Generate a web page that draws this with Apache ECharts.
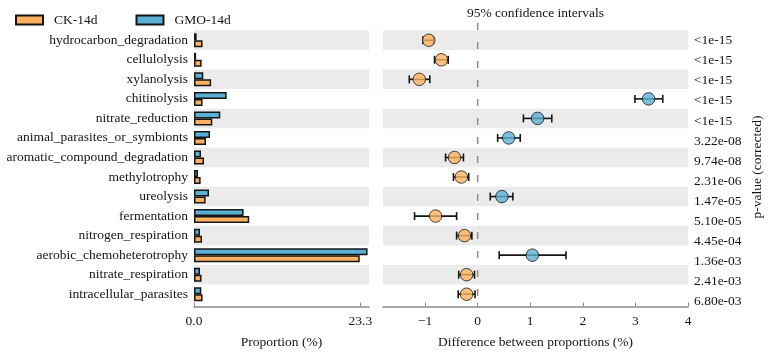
<!DOCTYPE html>
<html>
<head>
<meta charset="utf-8">
<script src="https://cdn.jsdelivr.net/npm/echarts@6/dist/echarts.min.js"></script>
<style>html,body{margin:0;padding:0;background:#fff}#c{width:768px;height:355px}</style>
</head>
<body>
<div id="c"></div>
<script>
const categories = ['hydrocarbon_degradation','cellulolysis','xylanolysis','chitinolysis','nitrate_reduction','animal_parasites_or_symbionts','aromatic_compound_degradation','methylotrophy','ureolysis','fermentation','nitrogen_respiration','aerobic_chemoheterotrophy','nitrate_respiration','intracellular_parasites'];
const ckProp  = [1.2, 1.07, 2.4, 1.2, 2.56, 1.68, 1.4, 0.93, 1.63, 7.73, 1.12, 23.2, 1.05, 1.2];
const gmoProp = [0.37, 0.3, 1.3, 4.57, 3.68, 2.24, 0.98, 0.56, 2.1, 6.94, 0.84, 24.3, 0.84, 1.02];
const diffMean = [-0.93, -0.69, -1.11, 3.25, 1.14, 0.59, -0.44, -0.31, 0.46, -0.80, -0.25, 1.04, -0.21, -0.21];
const ciLow    = [-1.04, -0.82, -1.30, 2.99, 0.87, 0.38, -0.61, -0.46, 0.24, -1.20, -0.40, 0.41, -0.36, -0.37];
const ciHigh   = [-0.84, -0.56, -0.91, 3.52, 1.41, 0.81, -0.27, -0.17, 0.67, -0.40, -0.11, 1.68, -0.06, -0.05];
const pValues = ['<1e-15','<1e-15','<1e-15','<1e-15','<1e-15','3.22e-08','9.74e-08','2.31e-06','1.47e-05','5.10e-05','4.45e-04','1.36e-03','2.41e-03','6.80e-03'];
const propTicks = [0, 23.3];
const diffTicks = [-1, 0, 1, 2, 3, 4];
const groupNames = ['CK-14d', 'GMO-14d'];

const ORANGE = '#fdb15f', BLUE = '#5aafd5', DARK = '#151515', BAND = '#ebebeb', AX = '#8a8a8a';
const FONT = 'Liberation Serif';
const FS = 13.5;

const chart = echarts.init(document.getElementById('c'));
const txt = {fontFamily: FONT, fontSize: FS, color: DARK};

const option = {
  animation: false,
  textStyle: {fontFamily: FONT},
  legend: {
    left: 15, top: 13, padding: 0, itemWidth: 27, itemHeight: 9, itemGap: 38,
    data: groupNames, icon: 'rect',
    textStyle: Object.assign({padding: [0,0,0,6]}, txt)
  },
  grid: [
    {left: 194, top: 30.5, width: 175, height: 273.5},
    {left: 383, top: 30.5, width: 305, height: 273.5},
    {left: 383, top: 30.5, width: 305, height: 281.5}
  ],
  xAxis: [
    {gridIndex: 0, type: 'value', min: 0, max: 24.5, offset: 2.5,
     axisLine: {show: true, lineStyle: {color: AX, width: 1.5}},
     axisTick: {show: true, inside: true, length: 4, customValues: propTicks, lineStyle: {color: AX, width: 1}},
     axisLabel: Object.assign({customValues: propTicks, margin: 8, formatter: v => v.toFixed(1)}, txt),
     splitLine: {show: false},
     name: 'Proportion (%)', nameLocation: 'middle', nameGap: 29, nameTextStyle: txt},
    {gridIndex: 1, type: 'value', min: -1.8, max: 4, offset: 2.5,
     axisLine: {show: true, lineStyle: {color: AX, width: 1.5}},
     axisTick: {show: true, inside: true, length: 4, customValues: diffTicks, lineStyle: {color: AX, width: 1}},
     axisLabel: Object.assign({customValues: diffTicks, margin: 8, formatter: v => String(v).replace('-', '\u2212')}, txt),
     splitLine: {show: false},
     name: 'Difference between proportions (%)', nameLocation: 'middle', nameGap: 29, nameTextStyle: txt},
    {gridIndex: 2, type: 'value', show: false}
  ],
  yAxis: [
    {gridIndex: 0, type: 'category', inverse: true, data: categories,
     axisLine: {show: false}, axisTick: {show: false},
     axisLabel: Object.assign({margin: 6}, txt),
     splitArea: {show: true, areaStyle: {color: [BAND, 'rgba(255,255,255,0)']}}},
    {gridIndex: 1, type: 'category', inverse: true, data: categories,
     axisLine: {show: false}, axisTick: {show: false}, axisLabel: {show: false},
     splitArea: {show: true, areaStyle: {color: [BAND, 'rgba(255,255,255,0)']}}},
    {gridIndex: 2, type: 'category', inverse: true, data: pValues, position: 'right',
     axisLine: {show: false}, axisTick: {show: false},
     axisLabel: Object.assign({margin: 6, align: 'left'}, txt)}
  ],
  series: [
    {name: groupNames[1], type: 'bar', xAxisIndex: 0, yAxisIndex: 0, data: gmoProp,
     barWidth: 7, barGap: '0%', itemStyle: {color: BLUE, borderColor: DARK, borderWidth: 1.5}},
    {name: groupNames[0], type: 'bar', xAxisIndex: 0, yAxisIndex: 0, data: ckProp,
     barWidth: 7, barGap: '0%', itemStyle: {color: ORANGE, borderColor: DARK, borderWidth: 1.5}},
    {name: 'ci', type: 'custom', xAxisIndex: 1, yAxisIndex: 1,
     data: categories.map((c, i) => [i, ciLow[i], ciHigh[i]]),
     encode: {x: [1, 2], y: 0},
     renderItem: function (params, api) {
       const y = api.value(0);
       const a = api.coord([api.value(1), y]);
       const b = api.coord([api.value(2), y]);
       const h = 4;
       const st = {stroke: DARK, lineWidth: 1.6};
       return {type: 'group', children: [
         {type: 'line', shape: {x1: a[0], y1: a[1], x2: b[0], y2: b[1]}, style: st},
         {type: 'line', shape: {x1: a[0], y1: a[1]-h, x2: a[0], y2: a[1]+h}, style: st},
         {type: 'line', shape: {x1: b[0], y1: b[1]-h, x2: b[0], y2: b[1]+h}, style: st}
       ]};
     }, z: 3},
    {name: 'diff', type: 'scatter', xAxisIndex: 1, yAxisIndex: 1, symbolSize: 12.5, z: 5,
     data: diffMean.map((v, i) => ({value: [v, i], itemStyle: {color: v < 0 ? ORANGE : BLUE}})),
     itemStyle: {borderColor: DARK, borderWidth: 1}}
  ]
};
option.series[0].color = BLUE; option.series[1].color = ORANGE;
chart.setOption(option);

const x0 = chart.convertToPixel({xAxisIndex: 1}, 0);
chart.setOption({
  graphic: [
    {type: 'line', z: 2, shape: {x1: x0, y1: 23, x2: x0, y2: 306}, style: {stroke: '#8c8c8c', lineWidth: 1.5, lineDash: [7, 12]}},
    {type: 'text', x: 535.5, y: 13, style: {text: '95% confidence intervals', font: FS + 'px "' + FONT + '"', fill: DARK, align: 'center', verticalAlign: 'middle'}},
    {type: 'text', x: 757, y: 167, rotation: Math.PI / 2, style: {text: 'p-value (corrected)', font: FS + 'px "' + FONT + '"', fill: DARK, align: 'center', verticalAlign: 'middle'}}
  ]
});
</script>
</body>
</html>
